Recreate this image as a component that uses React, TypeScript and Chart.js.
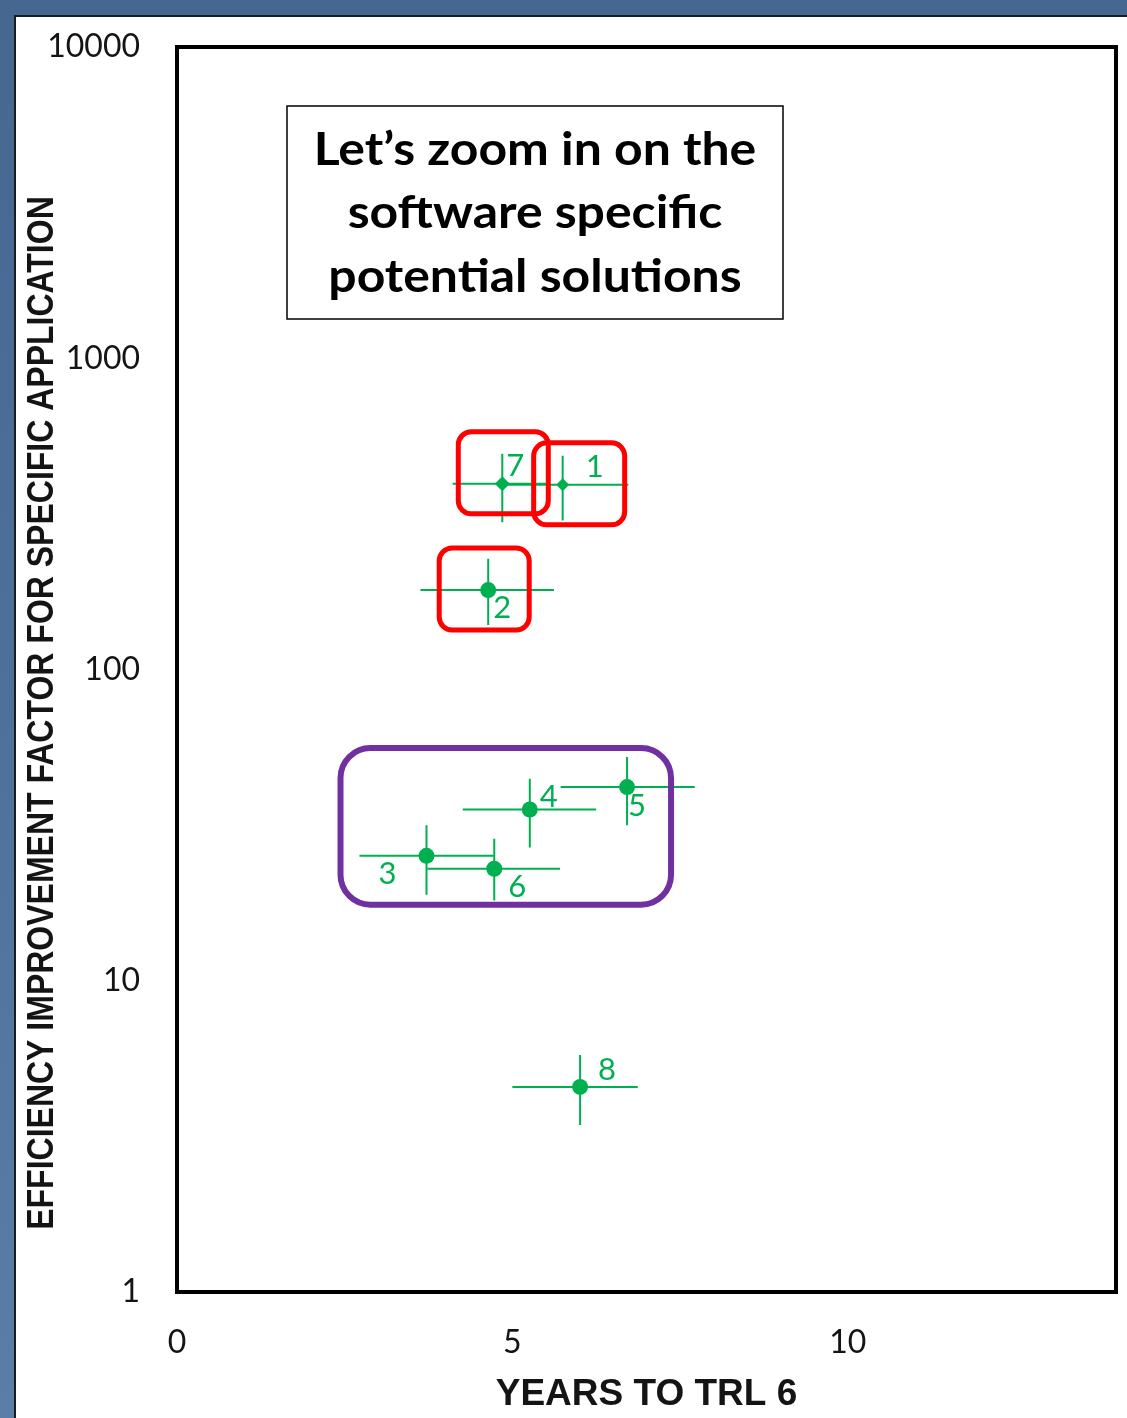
import React, { useEffect, useRef } from "react";
import { Chart, registerables } from "chart.js";

Chart.register(...registerables);

// Potential solutions: years to TRL 6 vs. efficiency improvement factor
const solutionIds = ["1", "2", "3", "4", "5", "6", "7", "8"];
const yearsToTrl6 = [5.75, 4.64, 3.72, 5.26, 6.71, 4.73, 4.85, 6.01];
const yearsLow = [4.86, 3.63, 2.72, 4.26, 5.72, 3.73, 4.11, 5.0];
const yearsHigh = [6.73, 5.62, 4.72, 6.25, 7.72, 5.71, 5.5, 6.87];
const efficiencyFactor = [392, 180, 25.2, 35.5, 41.9, 22.9, 395, 4.56];
const factorLow = [301, 139, 18.9, 26.8, 31.6, 18.1, 297, 3.44];
const factorHigh = [486, 227, 31.6, 44.6, 52.3, 28.6, 493, 5.77];

const xTickValues = [0, 5, 10];
const yTickValues = [1, 10, 100, 1000, 10000];

const diamondIds = ["1", "7"];
const softwareSpecificIds = ["7", "1", "2"];
const clusterIds = ["3", "4", "5", "6"];

const calloutLines = ["Let’s zoom in on the", "software specific", "potential solutions"];
const xTitle = "YEARS TO TRL 6";
const yTitle = "EFFICIENCY IMPROVEMENT FACTOR FOR SPECIFIC APPLICATION";

const GREEN = "#00b050";
const RED = "#ff0000";
const PURPLE = "#7030a0";
const INK = "#141414";

// label offsets from each point (px): [dx, dy]
const labelOffsets: Record<string, [number, number]> = {
  "1": [32, -18],
  "2": [14, 18],
  "3": [-39, 18],
  "4": [19, -12],
  "5": [10, 19],
  "6": [23, 18],
  "7": [13, -18],
  "8": [27, -17],
};

// highlight frame edges relative to the point (px): [left, top, right, bottom]
const highlightInsets: Record<string, [number, number, number, number]> = {
  "7": [-44, -52, 46, 30],
  "1": [-29, -42, 62, 40],
  "2": [-49, -42, 41, 40],
};

function roundRect(ctx: CanvasRenderingContext2D, l: number, t: number, r: number, b: number, rad: number) {
  ctx.beginPath();
  ctx.moveTo(l + rad, t);
  ctx.lineTo(r - rad, t);
  ctx.arcTo(r, t, r, t + rad, rad);
  ctx.lineTo(r, b - rad);
  ctx.arcTo(r, b, r - rad, b, rad);
  ctx.lineTo(l + rad, b);
  ctx.arcTo(l, b, l, b - rad, rad);
  ctx.lineTo(l, t + rad);
  ctx.arcTo(l, t, l + rad, t, rad);
  ctx.closePath();
}

const overlayPlugin = {
  id: "trlOverlay",
  beforeDatasetsDraw(chart: any) {
    const { ctx, scales } = chart;
    const xs = scales.x;
    const ys = scales.y;
    ctx.save();
    ctx.strokeStyle = GREEN;
    ctx.lineWidth = 2;
    solutionIds.forEach((_, i) => {
      const px = xs.getPixelForValue(yearsToTrl6[i]);
      const py = ys.getPixelForValue(efficiencyFactor[i]);
      ctx.beginPath();
      ctx.moveTo(xs.getPixelForValue(yearsLow[i]), py);
      ctx.lineTo(xs.getPixelForValue(yearsHigh[i]), py);
      ctx.moveTo(px, ys.getPixelForValue(factorLow[i]));
      ctx.lineTo(px, ys.getPixelForValue(factorHigh[i]));
      ctx.stroke();
    });
    ctx.restore();
  },
  afterDatasetsDraw(chart: any) {
    const { ctx, scales, chartArea } = chart;
    const xs = scales.x;
    const ys = scales.y;
    const pos = (id: string) => {
      const i = solutionIds.indexOf(id);
      return [xs.getPixelForValue(yearsToTrl6[i]), ys.getPixelForValue(efficiencyFactor[i])];
    };
    ctx.save();

    // point numbers
    ctx.fillStyle = GREEN;
    ctx.font = "31px Lato";
    ctx.textAlign = "center";
    ctx.textBaseline = "middle";
    solutionIds.forEach((id) => {
      const [px, py] = pos(id);
      const [dx, dy] = labelOffsets[id];
      ctx.fillText(id, px + dx, py + dy);
    });

    // cluster frame
    const pts = clusterIds.map(pos);
    const minX = Math.min(...pts.map((p) => p[0]));
    const maxX = Math.max(...pts.map((p) => p[0]));
    const minY = Math.min(...pts.map((p) => p[1]));
    const maxY = Math.max(...pts.map((p) => p[1]));
    ctx.strokeStyle = PURPLE;
    ctx.lineWidth = 6;
    roundRect(ctx, minX - 86, minY - 39, maxX + 44, maxY + 36, 30);
    ctx.stroke();

    // software-specific frames
    ctx.strokeStyle = RED;
    ctx.lineWidth = 5;
    softwareSpecificIds.forEach((id) => {
      const [px, py] = pos(id);
      const [l, t, r, b] = highlightInsets[id];
      roundRect(ctx, px + l, py + t, px + r, py + b, 13);
      ctx.stroke();
    });

    // plot frame
    ctx.strokeStyle = "#000";
    ctx.lineWidth = 4;
    ctx.strokeRect(chartArea.left, chartArea.top, chartArea.right - chartArea.left, chartArea.bottom - chartArea.top);

    // callout box
    const bx = chartArea.left + 110;
    const by = chartArea.top + 59;
    const bw = 496;
    const bh = 213;
    ctx.fillStyle = "#fff";
    ctx.fillRect(bx, by, bw, bh);
    ctx.strokeStyle = "#000";
    ctx.lineWidth = 1.5;
    ctx.strokeRect(bx, by, bw, bh);
    ctx.fillStyle = "#000";
    ctx.font = "bold 46px Lato";
    ctx.textAlign = "center";
    ctx.textBaseline = "middle";
    calloutLines.forEach((line, k) => {
      ctx.save();
      ctx.translate(bx + bw / 2, by + 44 + k * 63.5);
      ctx.scale(1.085, 1);
      ctx.fillText(line, 0, 0);
      ctx.restore();
    });

    // vertical axis title (slightly tall glyphs)
    ctx.translate(43, 713);
    ctx.rotate(-Math.PI / 2);
    ctx.scale(1, 1.15);
    ctx.fillStyle = INK;
    ctx.font = "bold 32px 'Liberation Sans'";
    ctx.textAlign = "center";
    ctx.textBaseline = "middle";
    ctx.fillText(yTitle, 0, 0);
    ctx.restore();
  },
};

export default function App() {
  const canvasRef = useRef<HTMLCanvasElement>(null);

  useEffect(() => {
    const canvas = canvasRef.current;
    if (!canvas) return;
    const tickFont = { family: "Lato", size: 32 };
    const chart = new Chart(canvas, {
      type: "scatter",
      data: {
        datasets: [
          {
            data: solutionIds.map((_, i) => ({ x: yearsToTrl6[i], y: efficiencyFactor[i] })),
            pointStyle: solutionIds.map((id) => (diamondIds.includes(id) ? "rectRot" : "circle")),
            pointRadius: solutionIds.map((id) => (id === "1" ? 6.5 : id === "7" ? 7.5 : 8)),
            backgroundColor: GREEN,
            borderColor: GREEN,
            borderWidth: 0,
          } as any,
        ],
      },
      options: {
        responsive: false,
        maintainAspectRatio: false,
        animation: false,
        layout: { padding: { top: 47, right: 11, left: 0, bottom: 0 } },
        plugins: { legend: { display: false }, tooltip: { enabled: false } },
        scales: {
          x: {
            type: "linear",
            min: 0,
            max: 14,
            grid: { display: false, drawTicks: false },
            border: { display: false },
            afterBuildTicks: (s: any) => {
              s.ticks = xTickValues.map((v) => ({ value: v }));
            },
            afterFit: (s: any) => {
              s.height = 126;
              s.paddingLeft = 0;
              s.paddingRight = 0;
            },
            ticks: { padding: 31, font: tickFont, color: INK, maxRotation: 0 },
            title: {
              display: true,
              text: xTitle,
              color: INK,
              font: { family: "'Liberation Sans'", size: 37, weight: "bold" },
              padding: { top: 0, bottom: 1 },
            },
          },
          y: {
            type: "logarithmic",
            min: 1,
            max: 10000,
            grid: { display: false, drawTicks: false },
            border: { display: false },
            afterBuildTicks: (s: any) => {
              s.ticks = yTickValues.map((v) => ({ value: v }));
            },
            afterFit: (s: any) => {
              s.width = 177;
              s.paddingTop = 0;
              s.paddingBottom = 0;
            },
            ticks: {
              padding: 37,
              font: tickFont,
              color: INK,
              callback: (v: any) => String(v),
            },
          },
        },
      } as any,
      plugins: [overlayPlugin],
    });
    return () => chart.destroy();
  }, []);

  return (
    <div
      style={{
        position: "fixed",
        left: 0,
        top: 0,
        width: 1127,
        height: 1418,
        overflow: "hidden",
        background: "linear-gradient(180deg, #456790 0%, #4e719c 50%, #5a7ea8 100%)",
      }}
    >
      <div
        style={{
          position: "absolute",
          left: 14,
          top: 15,
          right: 0,
          bottom: 0,
          background: "#fff",
          borderLeft: "2px solid #1b1b22",
          borderTop: "2px solid #1b1b22",
        }}
      />
      <canvas
        ref={canvasRef}
        width={1127}
        height={1418}
        style={{ position: "absolute", left: 0, top: 0, display: "block" }}
      />
    </div>
  );
}
